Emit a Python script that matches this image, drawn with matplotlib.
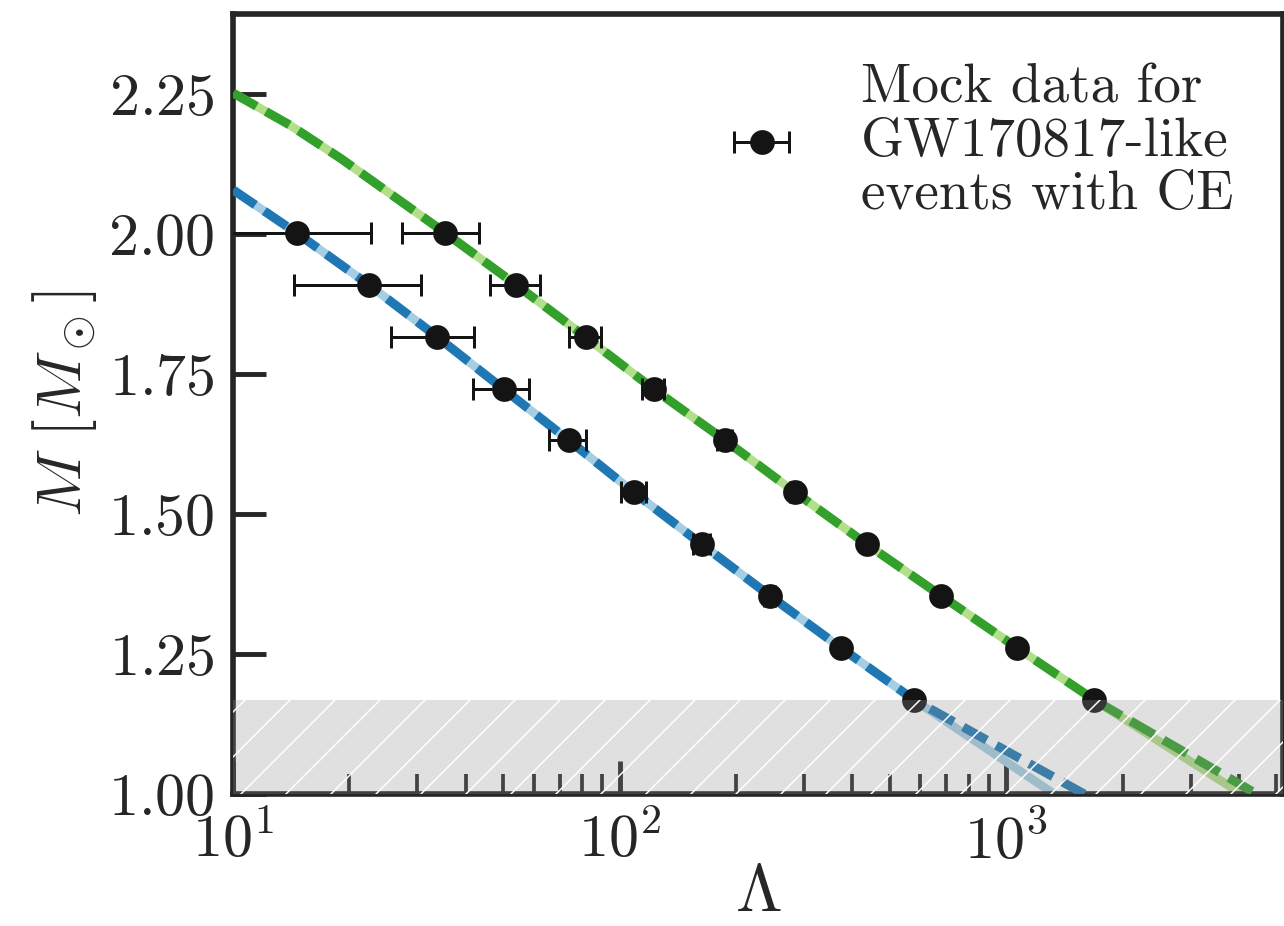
import matplotlib
matplotlib.use("Agg")
import matplotlib.pyplot as plt

plt.rcParams['font.family'] = 'serif'
plt.rcParams['font.serif'] = ['cmr10']
plt.rcParams['mathtext.fontset'] = 'cm'
plt.rcParams['axes.formatter.use_mathtext'] = True
plt.rcParams['hatch.linewidth'] = 0.4
plt.rcParams['text.color'] = '#262626'
plt.rcParams['axes.labelcolor'] = '#262626'
plt.rcParams['xtick.labelcolor'] = '#262626'
plt.rcParams['ytick.labelcolor'] = '#262626'

# mock events
lam_blue_pts = [14.6, 22.5, 33.8, 50.1, 73.8, 108.7, 163.1, 244.7, 373.7, 577.9]
m_blue_pts = [2.002, 1.909, 1.816, 1.723, 1.632, 1.539, 1.446, 1.354, 1.261, 1.168]
xerr_blue = [8.1, 8.1, 8.1, 8.3, 8.3, 8.0, 8.0, 8.0, 8.0, 8.0]

lam_green_pts = [35.4, 54.1, 81.7, 122.5, 187.1, 284.0, 436.0, 679.0, 1067.0, 1690.0]
m_green_pts = [2.002, 1.909, 1.816, 1.723, 1.632, 1.539, 1.446, 1.354, 1.261, 1.168]
xerr_green = [8.0, 8.0, 7.7, 8.0, 8.0, 8.0, 8.0, 8.0, 8.0, 8.0]

# M-Lambda curves: light solid = true relation, dashed = fit
lam_blue_true = [10.0, 14.6, 22.5, 33.8, 50.1, 73.8, 108.7, 163.1, 244.7, 373.7, 577.9, 1331.0]
m_blue_true = [2.079, 2.002, 1.909, 1.816, 1.723, 1.632, 1.539, 1.446, 1.354, 1.261, 1.168, 1.0]
lam_blue_fit = [10.0, 14.6, 22.5, 33.8, 50.1, 73.8, 108.7, 163.1, 244.7, 373.7, 577.9, 1592.0]
m_blue_fit = [2.079, 2.002, 1.909, 1.816, 1.723, 1.632, 1.539, 1.446, 1.354, 1.261, 1.168, 1.0]

lam_green_true = [10.0, 14.0, 19.0, 25.5, 35.4, 54.1, 81.7, 122.5, 187.1, 284.0, 436.0,
                  679.0, 1067.0, 1690.0, 4064.0]
m_green_true = [2.252, 2.195, 2.135, 2.072, 2.002, 1.909, 1.816, 1.723, 1.632, 1.539, 1.446,
                1.354, 1.261, 1.168, 1.0]
lam_green_fit = [10.0, 14.0, 19.0, 25.5, 35.4, 54.1, 81.7, 122.5, 187.1, 284.0, 436.0,
                 679.0, 1067.0, 1690.0, 4446.0]
m_green_fit = [2.252, 2.195, 2.135, 2.072, 2.002, 1.909, 1.816, 1.723, 1.632, 1.539, 1.446,
               1.354, 1.261, 1.168, 1.0]

band_top = 1.168

fig = plt.figure(figsize=(1284 / 270, 926 / 270), dpi=270)
ax = fig.add_axes([233 / 1284, 1 - 794 / 926, 1050 / 1284, 780 / 926])

ax.plot(lam_blue_true, m_blue_true, color='#a6cee3', lw=2.3, zorder=2)
ax.plot(lam_blue_fit, m_blue_fit, color='#1f78b4', lw=2.4, ls=(0, (3.0, 1.2)), zorder=3)
ax.plot(lam_green_true, m_green_true, color='#b2df8a', lw=2.3, zorder=2)
ax.plot(lam_green_fit, m_green_fit, color='#33a02c', lw=2.4, ls=(0, (3.0, 1.2)), zorder=3)

ekw = dict(fmt='o', color='#141414', ms=5.6, elinewidth=0.8, capsize=2.9, capthick=0.8, zorder=5)
ax.errorbar(lam_blue_pts, m_blue_pts, xerr=xerr_blue,
            label='Mock data for\nGW170817-like\nevents with CE', **ekw)
ax.errorbar(lam_green_pts, m_green_pts, xerr=xerr_green, **ekw)

ax.axhspan(1.0, band_top, facecolor=(0.557, 0.557, 0.557, 0.275), edgecolor='white',
           lw=0, hatch='//', zorder=6)

ax.set_xscale('log')
ax.set_xlim(10, 5200)
ax.set_ylim(1.0, 2.393)
ax.set_yticks([1.0, 1.25, 1.5, 1.75, 2.0, 2.25])

for s in ax.spines.values():
    s.set_linewidth(1.5)
    s.set_color('#262626')
ax.tick_params(which='major', direction='in', length=8.8, width=1.3, color='#262626',
               labelsize=16, pad=5, top=False, right=False)
ax.tick_params(which='minor', direction='in', length=5.3, width=1.0, color='#262626',
               top=False, right=False)

ax.set_xlabel(r'$\Lambda$', fontsize=18)
ax.xaxis.label.set_va('baseline')
ax.xaxis.set_label_coords(0.5, -0.150)
ax.set_ylabel(r'$M\ [M_\odot]$', fontsize=17, labelpad=2.5)

leg = ax.legend(loc='upper right', frameon=False, fontsize=14.7)
for t in leg.get_texts():
    t.set_linespacing(1.1)

fig.savefig('out.png', dpi=270)
